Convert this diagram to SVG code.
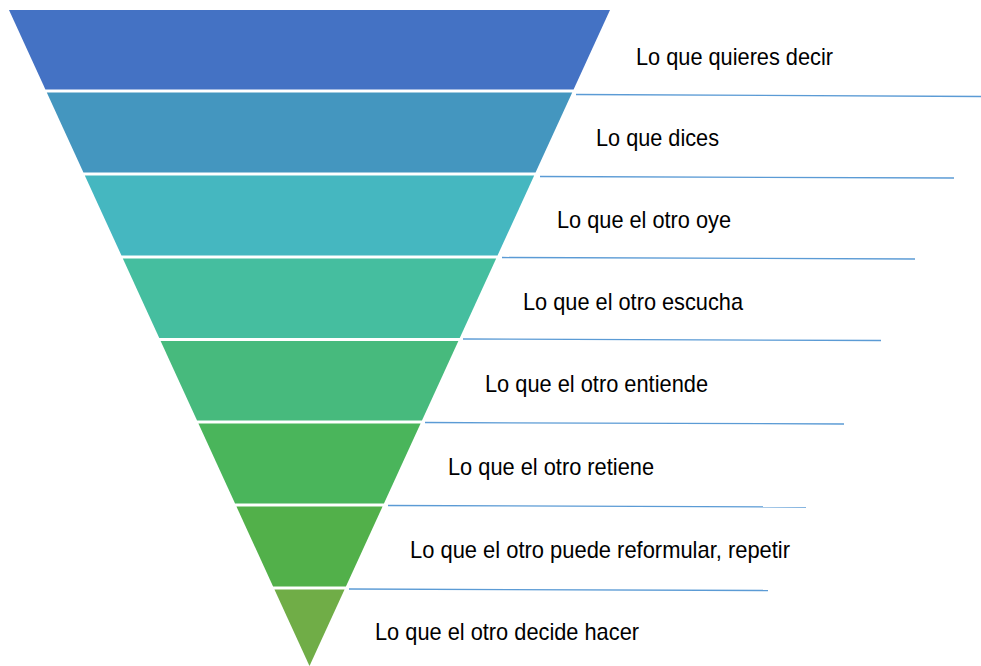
<svg xmlns="http://www.w3.org/2000/svg" width="981" height="666" viewBox="0 0 981 666">
<style>
.lbl{font-family:"Liberation Sans Narrow","Liberation Sans",Arial,sans-serif;font-size:24px;fill:#000}
.ln{stroke:#5b9bd5;stroke-width:1.3;fill:none}
</style>
<rect width="981" height="666" fill="#fff"/>
<g id="band1"><polygon points="9,10 610,10 573.58,89.5 45.42,89.5" fill="#4472c4"/>
<text class="lbl" x="636" y="65" textLength="197" lengthAdjust="spacingAndGlyphs">Lo que quieres decir</text></g>
<g id="band2"><polygon points="46.79,92.5 572.21,92.5 535.56,172.5 83.44,172.5" fill="#4496bf"/>
<text class="lbl" x="596" y="146" textLength="123" lengthAdjust="spacingAndGlyphs">Lo que dices</text></g>
<g id="band3"><polygon points="84.81,175.5 534.19,175.5 497.54,255.5 121.46,255.5" fill="#45b7c0"/>
<text class="lbl" x="557" y="228" textLength="174" lengthAdjust="spacingAndGlyphs">Lo que el otro oye</text></g>
<g id="band4"><polygon points="122.83,258.5 496.17,258.5 459.75,338 159.25,338" fill="#45be9f"/>
<text class="lbl" x="523" y="310" textLength="220" lengthAdjust="spacingAndGlyphs">Lo que el otro escucha</text></g>
<g id="band5"><polygon points="160.62,341 458.38,341 421.96,420.5 197.04,420.5" fill="#47ba7d"/>
<text class="lbl" x="485" y="392" textLength="223" lengthAdjust="spacingAndGlyphs">Lo que el otro entiende</text></g>
<g id="band6"><polygon points="198.42,423.5 420.58,423.5 383.94,503.5 235.06,503.5" fill="#4ab55b"/>
<text class="lbl" x="448" y="475" textLength="206" lengthAdjust="spacingAndGlyphs">Lo que el otro retiene</text></g>
<g id="band7"><polygon points="236.44,506.5 382.56,506.5 345.92,586.5 273.08,586.5" fill="#52b04a"/>
<text class="lbl" x="410" y="558" textLength="380" lengthAdjust="spacingAndGlyphs">Lo que el otro puede reformular, repetir</text></g>
<g id="band8"><polygon points="274.46,589.5 344.54,589.5 309.5,666" fill="#70ad47"/>
<text class="lbl" x="375" y="640" textLength="264" lengthAdjust="spacingAndGlyphs">Lo que el otro decide hacer</text></g>
<g id="connectors">
<line class="ln" x1="576" y1="94.5" x2="981" y2="96.5"/>
<line class="ln" x1="540" y1="176.5" x2="954" y2="178"/>
<line class="ln" x1="502" y1="257.5" x2="915" y2="259"/>
<line class="ln" x1="463" y1="339" x2="881" y2="340.5"/>
<line class="ln" x1="425" y1="422.5" x2="844" y2="424"/>
<line class="ln" x1="388" y1="505.5" x2="806" y2="507"/>
<line class="ln" x1="349" y1="589" x2="768" y2="590.5"/>
</g>
</svg>
